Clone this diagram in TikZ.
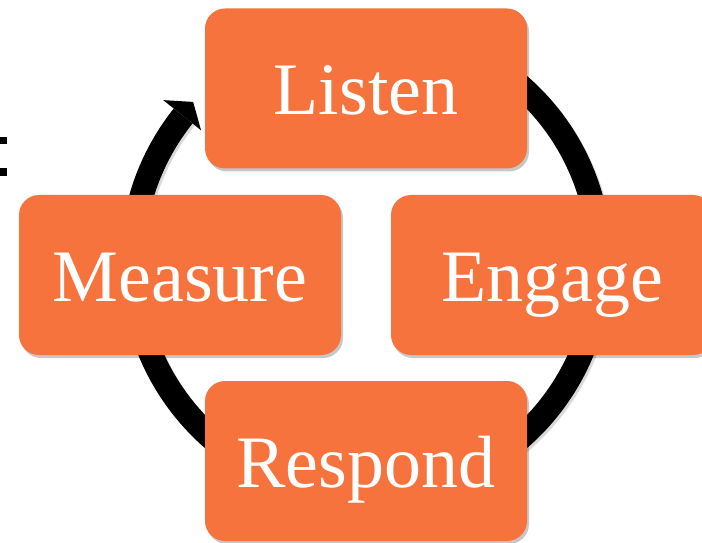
\documentclass[tikz,border=0pt]{standalone}
\usepackage{fontspec}
\setmainfont{Liberation Serif}
\usetikzlibrary{shadows}
\definecolor{cycleorange}{RGB}{246,115,62}
\begin{document}
\begin{tikzpicture}[x=1pt,y=1pt,
  stage/.style={rectangle, rounded corners=20pt, fill=cycleorange, text=white,
    minimum width=322pt, minimum height=160pt, inner sep=0pt,
    font=\fontsize{74}{74}\selectfont, text height=53pt, text depth=0pt,
    drop shadow={shadow xshift=2pt, shadow yshift=-3pt, opacity=0.22, fill=black}},
  ring/.style={line width=24pt, draw=black},
  ringshadow/.style={line width=24pt, draw=black, opacity=0.15}]
\clip (0,0) rectangle (702,542);

% clipped colon at the left edge
\fill[black] (0,397.7) rectangle (7.3,405.3);
\fill[black] (0,366) rectangle (7.3,374);

% cycle ring with its arrowhead
\coordinate (c) at (366,280);
\draw[ringshadow] ([shift={(60:234)}]c) ++(2,-2.5) arc[start angle=60, end angle=-218.6, radius=234];
\draw[ring] ([shift={(60:234)}]c) arc[start angle=60, end angle=-218.6, radius=234];
\fill[black] ([shift={(141.4:259.5)}]c) -- ([shift={(137.2:235.6)}]c) -- ([shift={(141.4:211)}]c) -- cycle;

% stages
\node[stage] (listen)  at (366,453.5) {Listen};
\node[stage] (engage)  at (552,267)   {Engage};
\node[stage] (measure) at (180,267)   {Measure};
\node[stage] (respond) at (366,81)    {Respond};
\end{tikzpicture}
\end{document}
